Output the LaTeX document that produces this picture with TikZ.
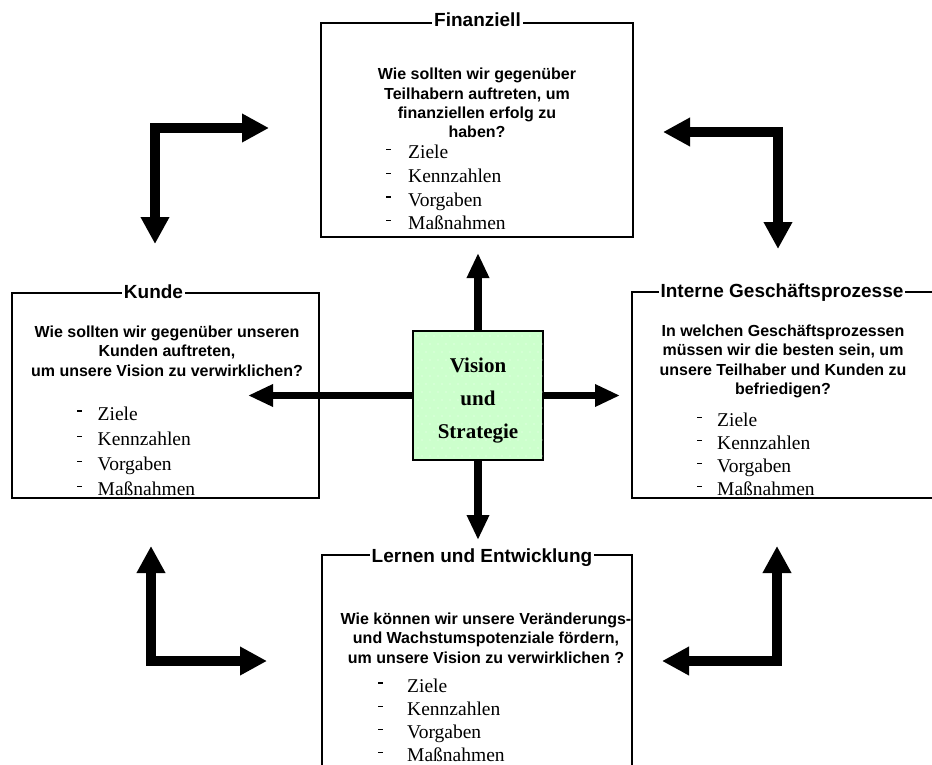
\documentclass[tikz,border=0pt]{standalone}
\usepackage{fontspec}
\setmainfont{Liberation Serif}
\newfontfamily\arialfont{Liberation Sans}
\usetikzlibrary{arrows.meta}

% centred block of lines; the baseline is that of the first line
\newcommand\linesc[2]{\vtop{\baselineskip=#1\lineskiplimit=-\maxdimen
  \halign{\hfil##\hfil\cr#2\crcr}}}
% list with a raised dash in front of every entry
\newcommand\kpilist[3]{\vtop{\baselineskip=#1\lineskiplimit=-\maxdimen
  \halign{\makebox[#2][l]{\rule[8.5pt]{5pt}{1.3pt}}##\hfil\cr#3\crcr}}}
\newcommand\kpis{Ziele\cr Kennzahlen\cr Vorgaben\cr Maßnahmen}

\definecolor{visgreen}{RGB}{204,255,204}

\begin{document}
\begin{tikzpicture}[x=1pt,y=-1pt,
  panel/.style={draw=black,line width=1.5pt,inner sep=0pt},
  ptitle/.style={fill=white,inner xsep=2pt,inner ysep=0pt,anchor=base,
    font=\arialfont\bfseries\fontsize{19}{19}\selectfont},
  qtext/.style={inner sep=0pt,anchor=base,
    font=\arialfont\bfseries\fontsize{16}{19}\selectfont},
  ltext/.style={inner sep=0pt,anchor=base west,
    font=\fontsize{19.5}{23}\selectfont},
  cornerarrow/.style={line width=10pt,line join=miter,
    {Triangle[length=27pt,width=27pt]}-{Triangle[length=27pt,width=27pt]}},
  hub/.style={line width=7.5pt,-{Triangle[length=25pt,width=21pt]}},
  visbox/.style={draw=black,line width=1.2pt,fill=visgreen,inner sep=0pt,
    minimum width=130pt,minimum height=129pt},
  vistext/.style={inner sep=0pt,anchor=base,
    font=\bfseries\fontsize{21}{21}\selectfont}]

\clip (0,0) rectangle (932,765);
\fill[white] (0,0) rectangle (932,765);

% ---- four perspective panels ----
\node[panel,minimum width=312pt,minimum height=214pt] (fin) at (477,130) {};
\node[panel,minimum width=307pt,minimum height=205pt] (kun) at (165.5,395.5) {};
\node[panel,minimum width=302pt,minimum height=206pt] (int) at (783,395) {};
\node[panel,minimum width=310pt,minimum height=245pt] (ler) at (477,677.5) {};

% panel titles sitting on the top edges
\node[ptitle] (finT) at (477.5,27) {Finanziell};
\node[ptitle] (kunT) at (153.5,298) {Kunde};
\node[ptitle] (intT) at (782,297) {Interne Geschäftsprozesse};
\node[ptitle] (lerT) at (482,562) {Lernen und Entwicklung};

% guiding questions
\node[qtext] (finQ) at (477,80) {\linesc{19.2pt}{Wie sollten wir gegenüber\cr
  Teilhabern auftreten, um\cr finanziellen erfolg zu\cr haben?}};
\node[qtext] (kunQ) at (167,337.5) {\linesc{19.4pt}{Wie sollten wir gegenüber unseren\cr
  Kunden auftreten,\cr um unsere Vision zu verwirklichen?}};
\node[qtext] (intQ) at (783,336) {\linesc{19.6pt}{In welchen Geschäftsprozessen\cr
  müssen wir die besten sein, um\cr unsere Teilhaber und Kunden zu\cr befriedigen?}};
\node[qtext] (lerQ) at (486,624) {\linesc{19.6pt}{Wie können wir unsere Veränderungs-\cr
  und Wachstumspotenziale fördern,\cr um unsere Vision zu verwirklichen ?}};

% measures in each panel
\node[ltext] (finL) at (386,159) {\kpilist{23.6pt}{22pt}{\kpis}};
\node[ltext] (kunL) at (77,420) {\kpilist{25.3pt}{20.5pt}{\kpis}};
\node[ltext] (intL) at (697,426.5) {\kpilist{23pt}{20pt}{\kpis}};
\node[ltext] (lerL) at (378,692) {\kpilist{23.3pt}{29pt}{\kpis}};

% ---- central box ----
\node[visbox] (vis) at (478,395.5) {};
\foreach \i in {0,...,15}{
  \foreach \j in {0,...,15}{
    \pgfmathsetmacro{\dx}{418+8*\i+4*mod(\j,2)}
    \pgfmathsetmacro{\dy}{336+8*\j}
    \fill[white,opacity=0.7] (\dx,\dy) circle (0.6);
  }}
\node[vistext] (visT) at (478,372) {\linesc{33pt}{Vision\cr und\cr Strategie}};

% arrows from the centre to the four panels
\coordinate (hubN) at (478,253);
\coordinate (hubS) at (478,540);
\coordinate (hubW) at (248,395.5);
\coordinate (hubE) at (620,395.5);
\draw[hub] (vis) -- (hubN);
\draw[hub] (vis) -- (hubS);
\draw[hub] (vis) -- (hubW);
\draw[hub] (vis) -- (hubE);

% corner arrows linking neighbouring panels
\coordinate (tlV) at (155,244);
\coordinate (tlH) at (269,128);
\coordinate (trH) at (663,132);
\coordinate (trV) at (778,249);
\coordinate (blV) at (151,546);
\coordinate (blH) at (267,661);
\coordinate (brH) at (662,661);
\coordinate (brV) at (777,546);
\draw[cornerarrow] (tlV) |- (tlH);
\draw[cornerarrow] (trH) -| (trV);
\draw[cornerarrow] (blV) |- (blH);
\draw[cornerarrow] (brH) -| (brV);
\end{tikzpicture}
\end{document}
